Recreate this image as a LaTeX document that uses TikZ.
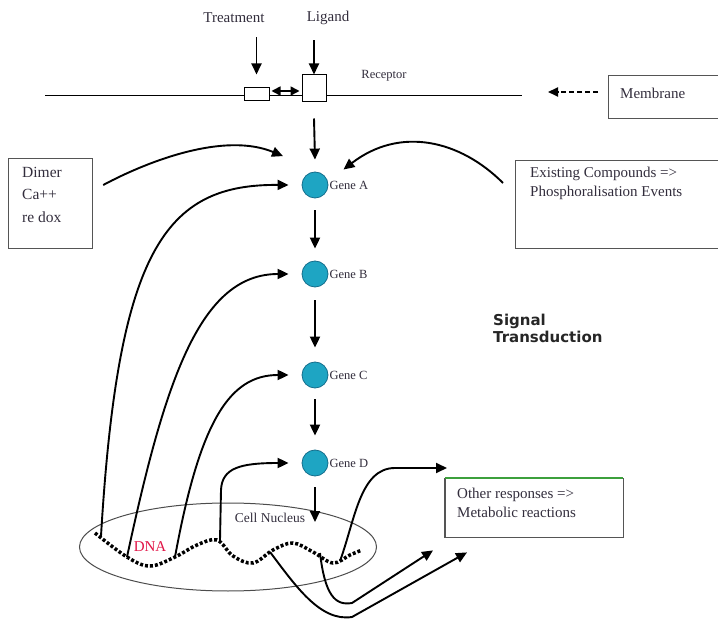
\documentclass[tikz,border=0pt]{standalone}
\usepackage{fontspec}
\setmainfont{Liberation Serif}
\newfontfamily\headfont{DejaVu Sans}
\usetikzlibrary{arrows.meta,shapes.geometric}
\definecolor{txt}{RGB}{50,45,60}
\definecolor{genefill}{RGB}{30,165,195}
\definecolor{geneedge}{RGB}{20,110,140}
\definecolor{boxline}{RGB}{85,85,85}
\definecolor{boxgreen}{RGB}{60,160,60}
\definecolor{dnared}{RGB}{225,20,70}
\begin{document}
\begin{tikzpicture}[x=1pt,y=-1pt,
  lbl/.style={font=\fontsize{15}{18}\selectfont, text=txt, inner sep=0pt},
  small/.style={font=\fontsize{12.5}{15}\selectfont, text=txt, inner sep=0pt},
  arr/.style={line width=1.9pt, -{Triangle[length=11pt,width=10pt]}},
  gene/.style={circle, minimum size=26pt, inner sep=0pt, fill=genefill, draw=geneedge, line width=0.8pt},
  box/.style={draw=boxline, line width=1.2pt, inner sep=0pt, anchor=north west},
  dnaline/.style={line width=3.5pt, dash pattern=on 3pt off 2pt},
  thin/.style={line width=1pt}]
\useasboundingbox (0,0) rectangle (718,620);

% membrane with its two receptor parts
\coordinate (memL) at (45,96);
\coordinate (memR) at (522,96);
\draw[thin] (memL) -- (memR);
\node[draw, fill=white, thin, minimum width=25pt, minimum height=13pt, inner sep=0pt] (rsmall) at (256.5,94.5) {};
\node[draw, fill=white, thin, minimum width=24pt, minimum height=27pt, inner sep=0pt] (rbig) at (314,88.5) {};
\draw[line width=1.6pt, {Triangle[length=9pt,width=9pt]}-{Triangle[length=9pt,width=9pt]}]
  ([xshift=2pt,yshift=3.5pt]rsmall.east) -- ([xshift=-2pt,yshift=-2.5pt]rbig.west);
\node[small] (rec) at (384,76) {Receptor};

% inputs from above
\node[lbl] (treat) at (234,18) {Treatment};
\node[lbl] (lig) at (328,18) {Ligand};
\draw[arr] (treat.south -| rsmall.north) ++(0,-14pt) coordinate (t0) (t0) -- ([yshift=13pt]rsmall.north);
\draw[arr] (lig.south -| rbig.north) ++(0,-15pt) coordinate (l0) (l0) -- (rbig.north);

% membrane label
\node[box, minimum width=115pt, minimum height=43pt] (mbox) at (608,75) {};
\node[lbl, anchor=west] (mtext) at (620,93) {Membrane};
\draw[line width=1.9pt, dash pattern=on 5pt off 3pt, -{Triangle[length=10pt,width=9pt]}]
  ([xshift=-10pt]mbox.west |- 0,92) -- ([xshift=-60pt]mbox.west |- 0,92);

% signalling cascade
\node[gene] (gA) at (315,185) {};
\node[gene] (gB) at (315,274) {};
\node[gene] (gC) at (315,375) {};
\node[gene] (gD) at (315,463) {};
\node[small, anchor=west] at ([xshift=1pt]gA.east) {Gene A};
\node[small, anchor=west] at ([xshift=1pt]gB.east) {Gene B};
\node[small, anchor=west] at ([xshift=1pt]gC.east) {Gene C};
\node[small, anchor=west] at ([xshift=1pt]gD.east) {Gene D};

\draw[arr] ([yshift=-16pt]rbig.south) -- ([yshift=12pt]gA.north);
\draw[arr] ([yshift=-12pt]gA.south) -- ([yshift=12pt]gB.north);
\draw[arr] ([yshift=-13pt]gB.south) -- ([yshift=14pt]gC.north);
\draw[arr] ([yshift=-11pt]gC.south) -- ([yshift=14pt]gD.north);

% side inputs
\node[box, minimum width=84pt, minimum height=90pt] (dimer) at (8,158) {};
\node[lbl, anchor=base west, font=\fontsize{15.5}{18}\selectfont] at (22,178) {Dimer};
\node[lbl, anchor=base west, font=\fontsize{15.5}{18}\selectfont] at (22,200) {Ca++};
\node[lbl, anchor=base west, font=\fontsize{15.5}{18}\selectfont] at (22,223) {re dox};

\node[box, minimum width=210pt, minimum height=88pt] (exist) at (515,160) {};
\node[lbl, anchor=base west] at (530,178) {Existing Compounds =>};
\node[lbl, anchor=base west] at (530,197) {Phosphoralisation Events};

\draw[arr] ([xshift=10pt,yshift=-27pt]dimer.north east) .. controls (150,160) and (225,132) .. ([xshift=-32pt,yshift=15.5pt]gA.north);
\draw[arr] ([xshift=-12pt,yshift=-23pt]exist.north west) .. controls (460,140) and (400,126) .. ([xshift=19pt,yshift=6pt]gA.north east);

\node[font=\headfont\bfseries\fontsize{15}{18}\selectfont, text=black!85, anchor=base west, inner sep=0pt] at (493,326) {Signal};
\node[font=\headfont\bfseries\fontsize{15}{18}\selectfont, text=black!85, anchor=base west, inner sep=0pt] at (493,343) {Transduction};

% nucleus and DNA
\node[draw=black!70, thin, ellipse, minimum width=297pt, minimum height=88pt, inner sep=0pt] (nuc) at (228,547) {};
\node[small, font=\fontsize{13.5}{16}\selectfont] (nuclbl) at (270,518) {Cell Nucleus};
\draw[arr] ([yshift=-11pt]gD.south) -- ([yshift=-4pt]nuclbl.east -| gD.south);

\coordinate (d1) at (101,536);
\coordinate (d2) at (127,557);
\coordinate (d3) at (175,557);
\coordinate (d4) at (220,540);
\coordinate (d5) at (270,552);
\coordinate (d6) at (320,553);
\coordinate (d7) at (340,561);
\draw[dnaline] plot[smooth, tension=0.6] coordinates {(95,533) (127,557) (150,566) (175,557) (197,545) (217,540) (233,556) (253,563) (273,550) (293,543) (313,552) (333,563) (350,555) (362,550)};
\node[text=dnared, font=\fontsize{15}{18}\selectfont, inner sep=0pt] (dna) at (150,547) {DNA};

% feedback from DNA to the genes
\draw[arr] (d1) .. controls (118,250) and (165,184) .. ([xshift=-13pt]gA.west);
\draw[arr] (d2) .. controls (165,380) and (200,274) .. ([xshift=-13pt]gB.west);
\draw[arr] (d3) .. controls (200,420) and (230,375) .. ([xshift=-13pt]gC.west);
\draw[arr] (d4) -- (221,490) .. controls (222,468) and (240,463) .. ([xshift=-13pt]gD.west);

% responses leaving the nucleus
\node[anchor=north west, minimum width=178pt, minimum height=59pt, inner sep=0pt] (other) at (445,478) {};
\draw[boxline, line width=1.2pt] (other.north east) -- (other.south east) -- (other.south west) -- (other.north west);
\draw[boxgreen, line width=1.2pt] (other.north west) -- (other.north east);
\node[lbl, anchor=base west] at (457,498) {Other responses =>};
\node[lbl, anchor=base west] at (457,517) {Metabolic reactions};

\draw[arr] (d7) .. controls (355,520) and (360,468) .. (395,468) -- ([xshift=2pt,yshift=10pt]other.north west);
\draw[arr] (d6) .. controls (325,595) and (335,606) .. (352,603) -- ([xshift=-12pt,yshift=-13pt]other.south west);
\draw[arr] (d5) .. controls (295,585) and (320,622) .. (352,617) -- ([xshift=22pt,yshift=-15pt]other.south west);
\end{tikzpicture}
\end{document}
